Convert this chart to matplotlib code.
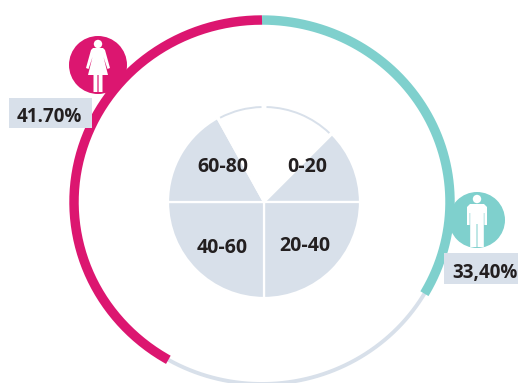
import numpy as np
import matplotlib
matplotlib.use("Agg")
import matplotlib.pyplot as plt
from matplotlib.patches import Circle, Polygon, Rectangle, Arc

plt.rcParams['font.family'] = ['Open Sans', 'DejaVu Sans']

# Outer ring shares (percent of the full circle)
share_women = 41.7
share_men = 33.4
label_women = "41.70%"
label_men = "33,40%"

# Age groups in the inner pie, sizes in degrees clockwise from 45 deg past the top
age_labels = ["0-20", "20-40", "40-60", "60-80", "", ""]
age_sizes = [45, 90, 90, 61, 29, 45]
age_filled = [True, True, True, True, False, False]

PINK = "#dc1670"
TEAL = "#7fd0cd"
GREY = "#d8e0ea"
DARK = "#231f20"
W, H = 518, 383


def yy(py):
    # positions below are measured from the top edge
    return H - py


def ring_arc(start, share, color, lw, z):
    # arc going clockwise from the top; negative share goes the other way
    t = np.radians(start + np.linspace(0, share * 3.6, 200))
    x = 262 + 188 * np.sin(t)
    y = yy(202) + 182 * np.cos(t)
    ax.plot(x, y, color=color, lw=lw, solid_capstyle="butt", zorder=z)


def woman(cx, cy):
    ax.add_patch(Circle((cx, yy(cy - 21)), 4.2, fc="white", ec="none", zorder=6))
    body = [(-5, -17), (5, -17), (7, -15), (12, 3), (9.5, 4), (5.5, -8), (10, 10), (4.5, 10), (4.5, 27),
            (0.6, 27), (0.6, 10), (-0.6, 10), (-0.6, 27), (-4.5, 27), (-4.5, 10), (-10, 10),
            (-5.5, -8), (-9.5, 4), (-12, 3), (-7, -15)]
    ax.add_patch(Polygon([(cx + a, yy(cy + b)) for a, b in body], fc="white", ec="none", zorder=6))


def man(cx, cy):
    ax.add_patch(Circle((cx, yy(cy - 21)), 4.2, fc="white", ec="none", zorder=6))
    body = [(-7, -16), (7, -16), (10, -13), (10, 5), (7.4, 5), (7.4, -7), (6.8, -7), (6.8, 27),
            (0.5, 27), (0.5, 4), (-0.5, 4), (-0.5, 27), (-6.8, 27), (-6.8, -7), (-7.4, -7),
            (-7.4, 5), (-10, 5), (-10, -13)]
    ax.add_patch(Polygon([(cx + a, yy(cy + b)) for a, b in body], fc="white", ec="none", zorder=6))


fig = plt.figure(figsize=(W / 100, H / 100), dpi=100)
ax = fig.add_axes([0, 0, 1, 1])

# inner pie
colors = [GREY if f else "white" for f in age_filled]
wedges, _ = ax.pie(age_sizes, colors=colors, startangle=45, counterclock=False, radius=96,
                   center=(264, yy(202)), wedgeprops=dict(edgecolor="white", linewidth=1.6))
angle = 45
for size, filled in zip(age_sizes, age_filled):
    if not filled:
        # empty wedges keep only a thin outline on the rim
        ax.add_patch(Arc((264, yy(202)), 190, 190, theta1=angle - size + 1.5, theta2=angle - 1.5,
                         color=GREY, lw=1.4, zorder=3))
    angle -= size

ax.set_xlim(0, W)
ax.set_ylim(0, H)
ax.set_aspect("auto")
ax.axis("off")

pie_text = {"0-20": (307, 166.5), "20-40": (305, 246), "40-60": (222, 248), "60-80": (223, 166.5)}
for lab, (px, py) in pie_text.items():
    ax.text(px, yy(py), lab, fontsize=14, fontweight="bold", color=DARK, ha="center", va="center", zorder=5)

# outer ring
ring_arc(0, 100, GREY, 2.8, 2)
ring_arc(0, share_men, TEAL, 6.8, 3)
ring_arc(0, -share_women, PINK, 6.8, 3)

# icons
ax.add_patch(Circle((98, yy(65)), 29, fc=PINK, ec="none", zorder=3))
woman(98, 65)
ax.add_patch(Circle((477, yy(220)), 28, fc=TEAL, ec="none", zorder=3))
man(477, 220)

# value labels
ax.add_patch(Rectangle((9, yy(128)), 83, 30, fc=GREY, ec="none", zorder=7))
ax.text(49.5, yy(117), label_women, fontsize=13.5, fontweight="bold", color=DARK, ha="center", va="center", zorder=8)
ax.add_patch(Rectangle((444, yy(284)), 74, 31, fc=GREY, ec="none", zorder=7))
ax.text(485, yy(273), label_men, fontsize=13.5, fontweight="bold", color=DARK, ha="center", va="center", zorder=8)

plt.savefig("out.png", dpi=100)
plt.close()
